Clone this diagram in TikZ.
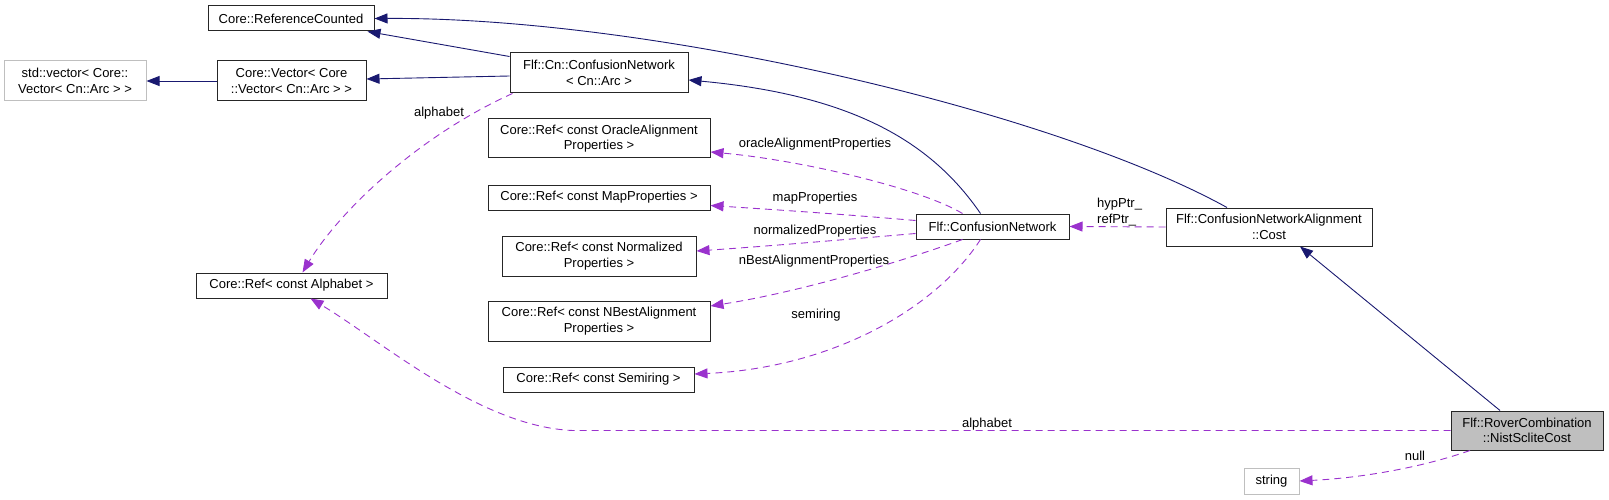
\documentclass[tikz,border=0pt]{standalone}
\usepackage{fontspec}
\setmainfont{Liberation Sans}
\usetikzlibrary{arrows.meta}
\definecolor{navyedge}{HTML}{191970}
\definecolor{orchid}{HTML}{9A32CD}
\definecolor{greybd}{HTML}{BFBFBF}
\begin{document}
\begin{tikzpicture}[x=1pt,y=-1pt,
  box/.style={draw=black!85, line width=1pt, fill=white, inner sep=0pt, align=center, font=\fontsize{13}{15.5}\selectfont},
  extbox/.style={box, draw=greybd},
  inh/.style={draw=navyedge, line width=0.9pt, -{Triangle[length=13pt,width=10pt]}},
  use/.style={draw=orchid, line width=0.9pt, dash pattern=on 7pt off 5pt, -{Triangle[length=13pt,width=10pt]}},
  lbl/.style={font=\fontsize{13}{15.5}\selectfont, inner sep=0pt, align=left}
]
\useasboundingbox (0,0) rectangle (1609,500);

% nodes
\node[box, minimum width=166pt, minimum height=25pt] (refc) at (291,18.5) {Core::ReferenceCounted};
\node[extbox, minimum width=142pt, minimum height=40pt] (stdvec) at (75,81) {std::vector< Core::\\Vector< Cn::Arc > >};
\node[box, minimum width=149pt, minimum height=40pt] (corevec) at (291.5,81) {Core::Vector< Core\\::Vector< Cn::Arc > >};
\node[box, minimum width=178pt, minimum height=40pt] (cncn) at (599,73) {Flf::Cn::ConfusionNetwork\\< Cn::Arc >};
\node[box, minimum width=222pt, minimum height=39pt] (oracle) at (599,138.5) {Core::Ref< const OracleAlignment\\Properties >};
\node[box, minimum width=222pt, minimum height=25pt] (mapp) at (599,197.5) {Core::Ref< const MapProperties >};
\node[box, minimum width=194pt, minimum height=40pt] (norm) at (599,256) {Core::Ref< const Normalized\\Properties >};
\node[box, minimum width=222pt, minimum height=40pt] (nbest) at (599,321) {Core::Ref< const NBestAlignment\\Properties >};
\node[box, minimum width=191pt, minimum height=25pt] (semi) at (598.5,379.5) {Core::Ref< const Semiring >};
\node[box, minimum width=191pt, minimum height=25pt] (alpha) at (291.5,285.5) {Core::Ref< const Alphabet >};
\node[box, minimum width=153pt, minimum height=25pt] (flfcn) at (992.5,226.5) {Flf::ConfusionNetwork};
\node[box, minimum width=206pt, minimum height=38pt] (cost) at (1269,227) {Flf::ConfusionNetworkAlignment\\::Cost};
\node[box, fill=greybd, minimum width=152pt, minimum height=39pt] (rover) at (1527,430.5) {Flf::RoverCombination\\::NistScliteCost};
\node[extbox, minimum width=55pt, minimum height=26pt] (str) at (1271.5,481) {string};

% inheritance edges
\draw[inh] ([xshift=-42pt]cost.north) .. controls (1050,110) and (650,17) .. (refc.east);
\draw[inh] ([yshift=-4pt]cncn.north west) -- ([xshift=-7pt]refc.south east);
\draw[inh] ([yshift=-3pt]cncn.west) -- ([yshift=2pt]corevec.east);
\draw[inh] (corevec.west) -- (stdvec.east);
\draw[inh] ([xshift=-12pt]flfcn.north) .. controls (930,140) and (850,95) .. ([yshift=-7pt]cncn.east);
\draw[inh] ([xshift=-27pt]rover.north) -- ([xshift=31pt]cost.south);

% usage edges
\draw[use] (cost.west) -- (flfcn.east);
\draw[use] ([xshift=-30pt]flfcn.north) .. controls (920,188) and (800,160) .. ([yshift=-13.5pt]oracle.east);
\draw[use] ([yshift=6pt]flfcn.west) .. controls (840,214) and (780,210) .. ([yshift=-8pt]mapp.east);
\draw[use] ([yshift=-7pt]flfcn.west) .. controls (840,240) and (770,246) .. ([yshift=5pt]norm.east);
\draw[use] ([xshift=-30pt]flfcn.south) .. controls (900,262) and (800,292) .. ([yshift=15pt]nbest.east);
\draw[use] ([xshift=-12pt]flfcn.south) .. controls (935,310) and (830,368) .. ([yshift=5.5pt]semi.east);
\draw[use] ([xshift=3pt]cncn.south west) .. controls (420,135) and (340,210) .. ([xshift=11pt]alpha.north);
\coordinate (bend) at (573,430.5);
\draw[use] (rover.west) -- (bend) .. controls (480,427) and (380,340) .. ([xshift=19pt]alpha.south);
\draw[use] ([xshift=-57pt]rover.south) .. controls (1420,468) and (1360,478) .. (str.east);

% labels
\node[lbl] (l1) at (815,144) {oracleAlignmentProperties};
\node[lbl] (l2) at (815,198) {mapProperties};
\node[lbl] (l3) at (815,231) {normalizedProperties};
\node[lbl] (l4) at (814,261) {nBestAlignmentProperties};
\node[lbl] (l5) at (816,315) {semiring};
\node[lbl] (l6) at (439,113) {alphabet};
\node[lbl] (l7) at (987,424) {alphabet};
\node[lbl, anchor=west] (l8) at (1097,212) {hypPtr\_\\refPtr\_};
\node[lbl] (l9) at (1415,456) {null};
\end{tikzpicture}
\end{document}
